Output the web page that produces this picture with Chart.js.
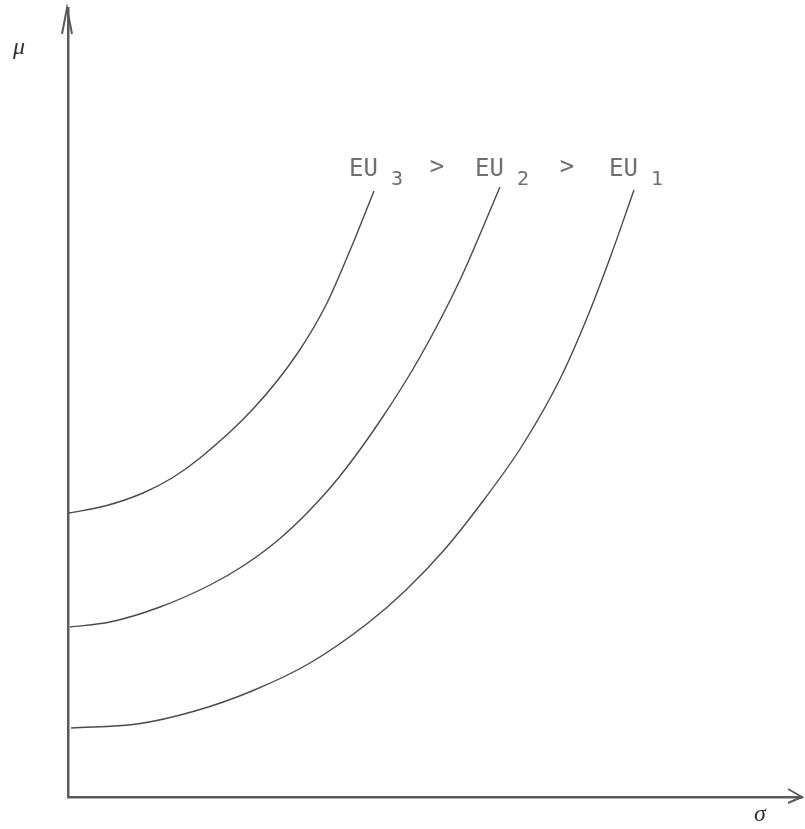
<!DOCTYPE html>
<html>
<head>
<meta charset="utf-8">
<script src="https://cdn.jsdelivr.net/npm/chart.js@4.4.0/dist/chart.umd.min.js"></script>
<style>
    html, body { margin: 0; padding: 0; background: #fff; }
    #wrap { width: 805px; height: 829px; }
</style>
</head>
<body>
<div id="wrap"><canvas id="euChart" width="805" height="829"></canvas></div>
<script>
// sigma (x) and mu (y), arbitrary units
const eu3Sigma = [0.1, 3.7, 7.5, 10.4, 13.2, 18.5, 22.9, 25.9, 28.3, 30.6];
const eu3Mu = [28.4, 29.1, 30.4, 31.9, 33.9, 38.8, 44.3, 49.4, 54.9, 60.6];

const eu2Sigma = [0.2, 4.2, 9.2, 14.2, 17.5, 20.9, 24.0, 27.2, 31.4, 35.2, 39.2, 43.2];
const eu2Mu = [17.0, 17.5, 19.0, 21.2, 23.1, 25.6, 28.5, 32.1, 37.9, 44.0, 51.7, 61.0];

const eu1Sigma = [0.3, 6.9, 12.7, 18.4, 24.2, 30.0, 33.8, 37.7, 41.5, 45.4, 49.2, 51.9, 54.2, 56.6];
const eu1Mu = [6.9, 7.3, 8.6, 10.6, 13.4, 17.4, 20.7, 24.8, 29.6, 35.1, 41.8, 47.9, 53.9, 60.7];

const curveNames = ['EU', 'EU', 'EU'];
const curveSubs = ['3', '2', '1'];

const xMax = 73.4;
const yMax = 78.9;

const inkColor = '#4a4a4a';
const axisColor = '#5a5a5a';
const labelColor = '#6f6f6f';

function toPoints(xs, ys) {
    return xs.map((x, i) => ({ x: x, y: ys[i] }));
}

function curveDataset(name, xs, ys) {
    return {
        label: name,
        data: toPoints(xs, ys),
        showLine: true,
        borderColor: inkColor,
        borderWidth: 1.4,
        pointRadius: 0,
        cubicInterpolationMode: 'monotone',
        fill: false,
    };
}

// arrowheads, axis letters and the EU labels
const sketchPlugin = {
    id: 'sketch',
    afterDraw(chart) {
        const ctx = chart.ctx;
        const xs = chart.scales.x;
        const ys = chart.scales.y;
        const ox = xs.getPixelForValue(0);
        const oy = ys.getPixelForValue(0);
        const top = ys.getPixelForValue(yMax);
        const right = xs.getPixelForValue(xMax);

        ctx.save();
        ctx.strokeStyle = axisColor;
        ctx.lineWidth = 2;
        ctx.lineJoin = 'miter';

        // up arrow
        ctx.beginPath();
        ctx.moveTo(ox - 6, top + 26);
        ctx.lineTo(ox - 1, top);
        ctx.lineTo(ox + 4, top + 26);
        ctx.stroke();

        // right arrow
        ctx.beginPath();
        ctx.moveTo(right - 14, oy - 8);
        ctx.lineTo(right, oy);
        ctx.lineTo(right - 14, oy + 6);
        ctx.stroke();

        // axis letters
        ctx.fillStyle = '#333';
        ctx.font = 'italic 24px "Liberation Serif", "DejaVu Serif", serif';
        ctx.textAlign = 'center';
        ctx.textBaseline = 'alphabetic';
        ctx.fillText('μ', 19, 54);
        ctx.fillText('σ', right - 42, oy + 24);

        // curve labels above each curve's top end
        const ends = [
            [eu3Sigma[eu3Sigma.length - 1], eu3Mu[eu3Mu.length - 1]],
            [eu2Sigma[eu2Sigma.length - 1], eu2Mu[eu2Mu.length - 1]],
            [eu1Sigma[eu1Sigma.length - 1], eu1Mu[eu1Mu.length - 1]],
        ];
        ctx.fillStyle = labelColor;
        const labelY = ys.getPixelForValue(ends[0][1]) - 15;
        const centers = ends.map((e) => xs.getPixelForValue(e[0]));
        centers.forEach((cx, i) => {
            ctx.font = '24px "DejaVu Sans Mono", "Liberation Mono", monospace';
            ctx.textAlign = 'right';
            ctx.fillText(curveNames[i], cx + 4, labelY);
            ctx.font = '20px "DejaVu Sans Mono", "Liberation Mono", monospace';
            ctx.textAlign = 'left';
            ctx.fillText(curveSubs[i], cx + 17, labelY + 9);
            if (i < centers.length - 1) {
                ctx.font = '24px "DejaVu Sans Mono", "Liberation Mono", monospace';
                ctx.textAlign = 'center';
                ctx.fillText('>', (cx + centers[i + 1]) / 2, labelY - 2);
            }
        });
        ctx.restore();
    },
};

function zeroWidth(scale) {
    scale.width = 0;
}

function zeroHeight(scale) {
    scale.height = 0;
}

document.addEventListener('DOMContentLoaded', function () {
    const ctx = document.getElementById('euChart').getContext('2d');

    new Chart(ctx, {
        type: 'scatter',
        data: {
            datasets: [
                curveDataset('EU3', eu3Sigma, eu3Mu),
                curveDataset('EU2', eu2Sigma, eu2Mu),
                curveDataset('EU1', eu1Sigma, eu1Mu),
            ],
        },
        options: {
            responsive: false,
            animation: false,
            layout: {
                padding: { left: 68, right: 3, top: 8, bottom: 32 },
            },
            scales: {
                x: {
                    type: 'linear',
                    min: 0,
                    max: xMax,
                    grid: { display: false },
                    ticks: { display: false },
                    border: { display: true, color: axisColor, width: 2.5 },
                    afterFit: zeroHeight,
                },
                y: {
                    type: 'linear',
                    min: 0,
                    max: yMax,
                    grid: { display: false },
                    ticks: { display: false },
                    border: { display: true, color: axisColor, width: 2.5 },
                    afterFit: zeroWidth,
                },
            },
            plugins: {
                legend: { display: false },
                tooltip: { enabled: false },
            },
        },
        plugins: [sketchPlugin],
    });
});
</script>
</body>
</html>
